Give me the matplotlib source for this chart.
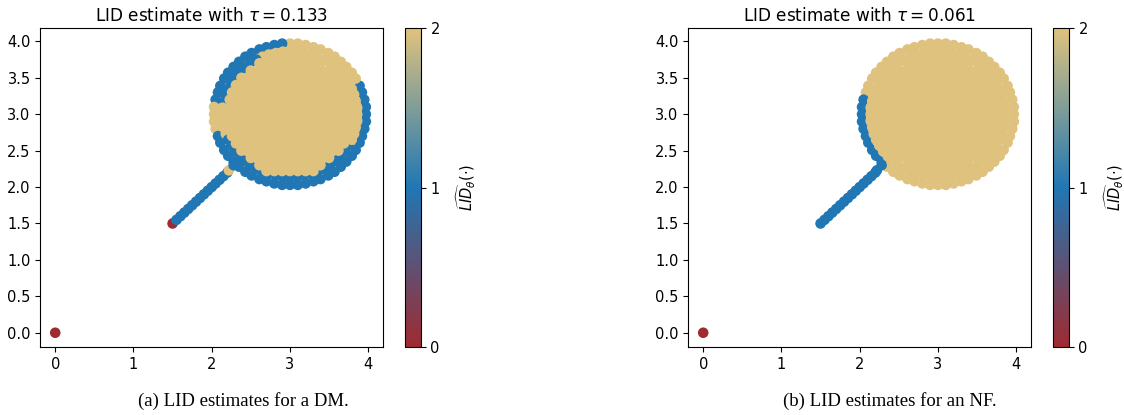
import matplotlib
matplotlib.use("Agg")
import matplotlib.pyplot as plt
from matplotlib.colors import LinearSegmentedColormap
import numpy as np

# outer boundary of the disk (radius ~0.97 around (3, 3)), 60 samples
OUTER_X = [3.97, 3.97, 3.95, 3.92, 3.89, 3.84, 3.79, 3.72, 3.65, 3.57, 3.49, 3.39, 3.30, 3.20, 3.10,
           3.00, 2.90, 2.80, 2.70, 2.61, 2.51, 2.43, 2.35, 2.28, 2.21, 2.16, 2.11, 2.08, 2.05, 2.03,
           2.03, 2.03, 2.05, 2.08, 2.11, 2.16, 2.21, 2.28, 2.35, 2.43, 2.51, 2.61, 2.70, 2.80, 2.90,
           3.00, 3.10, 3.20, 3.30, 3.39, 3.49, 3.57, 3.65, 3.72, 3.79, 3.84, 3.89, 3.92, 3.95, 3.97]
OUTER_Y = [3.00, 3.10, 3.20, 3.30, 3.39, 3.49, 3.57, 3.65, 3.72, 3.79, 3.84, 3.89, 3.92, 3.95, 3.97,
           3.97, 3.97, 3.95, 3.92, 3.89, 3.84, 3.79, 3.72, 3.65, 3.57, 3.49, 3.39, 3.30, 3.20, 3.10,
           3.00, 2.90, 2.80, 2.70, 2.61, 2.51, 2.43, 2.35, 2.28, 2.21, 2.16, 2.11, 2.08, 2.05, 2.03,
           2.03, 2.03, 2.05, 2.08, 2.11, 2.16, 2.21, 2.28, 2.35, 2.43, 2.51, 2.61, 2.70, 2.80, 2.90]

# second ring just inside (radius ~0.86)
INNER_X = [3.86, 3.86, 3.84, 3.82, 3.79, 3.75, 3.70, 3.64, 3.58, 3.51, 3.43, 3.35, 3.27, 3.18, 3.09,
           3.00, 2.91, 2.82, 2.73, 2.65, 2.57, 2.49, 2.42, 2.36, 2.30, 2.25, 2.21, 2.18, 2.16, 2.14,
           2.14, 2.14, 2.16, 2.18, 2.21, 2.25, 2.30, 2.36, 2.42, 2.49, 2.57, 2.65, 2.73, 2.82, 2.91,
           3.00, 3.09, 3.18, 3.27, 3.35, 3.43, 3.51, 3.58, 3.64, 3.70, 3.75, 3.79, 3.82, 3.84, 3.86]
INNER_Y = [3.00, 3.09, 3.18, 3.27, 3.35, 3.43, 3.51, 3.58, 3.64, 3.70, 3.75, 3.79, 3.82, 3.84, 3.86,
           3.86, 3.86, 3.84, 3.82, 3.79, 3.75, 3.70, 3.64, 3.58, 3.51, 3.43, 3.35, 3.27, 3.18, 3.09,
           3.00, 2.91, 2.82, 2.73, 2.65, 2.57, 2.49, 2.42, 2.36, 2.30, 2.25, 2.21, 2.18, 2.16, 2.14,
           2.14, 2.14, 2.16, 2.18, 2.21, 2.25, 2.30, 2.36, 2.42, 2.49, 2.57, 2.65, 2.73, 2.82, 2.91]

# interior of the disk, row by row
RT = [2.7, 2.8, 2.9, 3.0, 3.1, 3.2, 3.3]
R9 = [2.61, 2.7, 2.8, 2.9, 3.0, 3.1, 3.2, 3.3, 3.39]
R11 = [2.5, 2.6, 2.7, 2.8, 2.9, 3.0, 3.1, 3.2, 3.3, 3.4, 3.5]
R14 = [2.38, 2.45, 2.55, 2.65, 2.75, 2.85, 2.95, 3.05, 3.15, 3.25, 3.35, 3.45, 3.55, 3.62]
R15 = [2.31, 2.4, 2.5, 2.6, 2.7, 2.8, 2.9, 3.0, 3.1, 3.2, 3.3, 3.4, 3.5, 3.6, 3.69]
R16A = [2.26, 2.35, 2.45, 2.55, 2.65, 2.75, 2.85, 2.95, 3.05, 3.15, 3.25, 3.35, 3.45, 3.55, 3.65, 3.74]
R17A = [2.23, 2.3, 2.4, 2.5, 2.6, 2.7, 2.8, 2.9, 3.0, 3.1, 3.2, 3.3, 3.4, 3.5, 3.6, 3.7, 3.77]
R16 = [2.25, 2.35, 2.45, 2.55, 2.65, 2.75, 2.85, 2.95, 3.05, 3.15, 3.25, 3.35, 3.45, 3.55, 3.65, 3.75]
R17 = [2.2, 2.3, 2.4, 2.5, 2.6, 2.7, 2.8, 2.9, 3.0, 3.1, 3.2, 3.3, 3.4, 3.5, 3.6, 3.7, 3.8]
ROW_Y = [2.22, 2.3, 2.4, 2.5, 2.6, 2.7, 2.8, 2.9, 3.0, 3.1, 3.2, 3.3, 3.4, 3.5, 3.6, 3.7, 3.78]
ROW_X = [RT, R9, R11, R14, R15, R16A, R17A, R16, R17, R16, R17A, R16A, R15, R14, R11, R9, RT]

# segment from (1.5, 1.5) to the disk, and the isolated point at the origin
LINE_X = [1.50, 1.55, 1.60, 1.65, 1.70, 1.75, 1.80, 1.85, 1.90, 1.95, 2.00, 2.05, 2.10, 2.15, 2.20, 2.22, 2.28]
LINE_Y = [1.50, 1.55, 1.60, 1.65, 1.70, 1.75, 1.80, 1.85, 1.90, 1.95, 2.00, 2.05, 2.10, 2.15, 2.20, 2.23, 2.30]
ORIGIN_X = [0.0]
ORIGIN_Y = [0.0]

# LID estimates per point group
LID_OUTER_DM = [1] * 5 + [2] * 11 + [1] * 13 + [2] * 4 + [1] * 27
LID_INNER_DM = [2] * 20 + [1] * 9 + [2] * 5 + [1] * 22 + [2] * 4
LID_LINE_DM = [0] + [1] * 14 + [2, 1]
LID_OUTER_NF = [2] * 28 + [1] * 10 + [2] * 22
LID_INNER_NF = [2] * 60
LID_LINE_NF = [1] * 17

TAUS = [0.133, 0.061]
CAPTIONS = ["(a) LID estimates for a DM.", "(b) LID estimates for an NF."]

cmap = LinearSegmentedColormap.from_list("lid", ["#9f2a30", "#1f77b4", "#dfc27d"])

disk_x = [x for row in ROW_X for x in row]
disk_y = [y for y, row in zip(ROW_Y, ROW_X) for _ in row]


def collect(lid_outer, lid_inner, lid_line):
    x = OUTER_X + INNER_X + disk_x + LINE_X + ORIGIN_X
    y = OUTER_Y + INNER_Y + disk_y + LINE_Y + ORIGIN_Y
    c = lid_outer + lid_inner + [2] * len(disk_x) + lid_line + [0]
    return np.array(x), np.array(y), np.array(c)


panels = [collect(LID_OUTER_DM, LID_INNER_DM, LID_LINE_DM),
          collect(LID_OUTER_NF, LID_INNER_NF, LID_LINE_NF)]

fig = plt.figure(figsize=(11.24, 4.15), dpi=100)
lefts = [0.0359, 0.6124]
cb_lefts = [0.3606, 0.9371]
cap_x = [0.2162, 0.7918]

for i, (x, y, c) in enumerate(panels):
    ax = fig.add_axes([lefts[i], 0.1631, 0.3049, 0.7687])
    sc = ax.scatter(x, y, c=c, cmap=cmap, vmin=0, vmax=2, s=58, linewidths=0)
    ax.set_xlim(-0.19, 4.19)
    ax.set_ylim(-0.2, 4.18)
    ax.set_xticks([0, 1, 2, 3, 4])
    ax.set_yticks([0.0, 0.5, 1.0, 1.5, 2.0, 2.5, 3.0, 3.5, 4.0])
    ax.tick_params(labelsize=10.5)
    ax.set_title(rf"LID estimate with $\tau = {TAUS[i]}$", fontsize=12.2, pad=5)
    cax = fig.add_axes([cb_lefts[i], 0.1631, 0.0137, 0.7687])
    cb = fig.colorbar(sc, cax=cax, ticks=[0, 1, 2])
    cb.ax.tick_params(labelsize=10.5)
    cb.set_label(r"$\widehat{LID}_{\theta}(\cdot)$", fontsize=10.5, labelpad=11)
    fig.text(cap_x[i], 0.034, CAPTIONS[i], ha="center", va="center",
             family="Liberation Serif", fontsize=13.5)

fig.savefig("out.png", dpi=100)
